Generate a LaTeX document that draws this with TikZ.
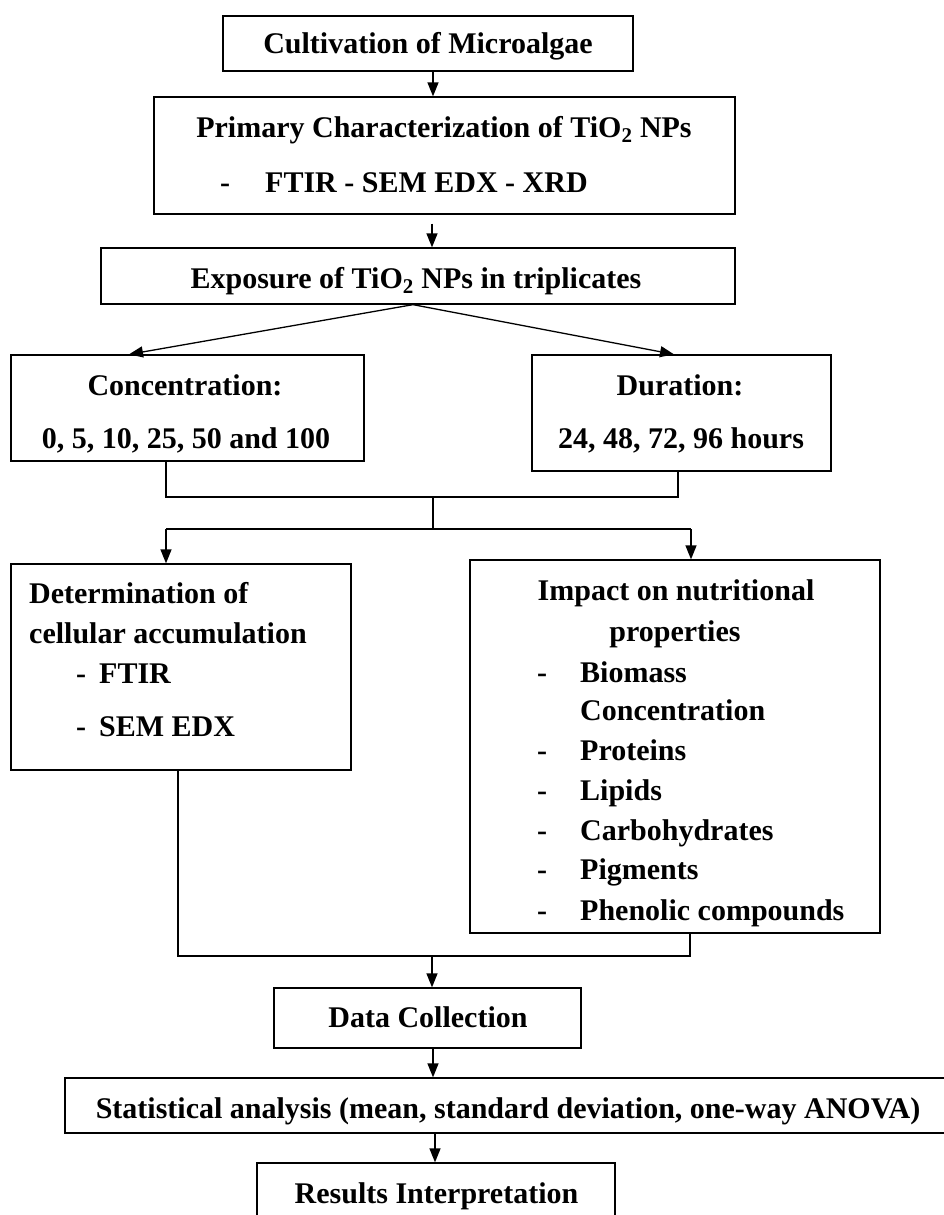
\documentclass[tikz,border=0pt]{standalone}
\usepackage{fontspec}
\setmainfont{Liberation Serif}
\usetikzlibrary{arrows.meta}
\begin{document}
\begin{tikzpicture}[x=1pt,y=-1pt,
  bx/.style args={#1x#2}{draw, line width=1.3pt, inner sep=0pt, minimum width=#1pt, minimum height=#2pt},
  tx/.style={font=\fontsize{30}{36}\selectfont\bfseries, inner sep=0pt, anchor=base},
  tl/.style={font=\fontsize{30}{36}\selectfont\bfseries, inner sep=0pt, anchor=base west},
  ln/.style={line width=1.3pt},
  arr/.style={line width=1.3pt, -{Triangle[length=14pt,width=11pt]}}
]
\useasboundingbox (0,0) rectangle (944,1215);
% boxes
\node[bx=410x55] (b1) at (428,43.5) {};
\node[bx=581x117] (b2) at (444.5,155.5) {};
\node[bx=634x56] (b3) at (418,276) {};
\node[bx=353x106] (bc) at (187.5,408) {};
\node[bx=299x116] (bd) at (681.5,413) {};
\node[bx=340x206] (bdet) at (181,667) {};
\node[bx=410x373] (bimp) at (675,746.5) {};
\node[bx=307x60] (bdata) at (427.5,1018) {};
\node[bx=890x55] (bstat) at (510,1105.5) {};
\node[bx=358x72] (bres) at (436,1199) {};
% texts
\node[tx] (t1) at (428,53) {Cultivation of Microalgae};
\node[tx] (t2a) at (444,137) {Primary Characterization of TiO\textsubscript{2} NPs};
\node[tl] (t2d) at (220,192) {-};
\node[tl] (t2b) at (265,192) {FTIR - SEM EDX - XRD};
\node[tx] (t3) at (416,288) {Exposure of TiO\textsubscript{2} NPs in triplicates};
\node[tx] (tc1) at (185,395) {Concentration:};
\node[tx] (tc2) at (186,448) {0, 5, 10, 25, 50 and 100};
\node[tx] (td1) at (680,395) {Duration:};
\node[tx] (td2) at (681,448) {24, 48, 72, 96 hours};
\node[tl] (te1) at (29,603) {Determination of};
\node[tl] (te2) at (29,643) {cellular accumulation};
\node[tl] (te3d) at (76,683) {-};
\node[tl] (te3) at (99,683) {FTIR};
\node[tl] (te4d) at (76,736) {-};
\node[tl] (te4) at (99,736) {SEM EDX};
\node[tx] (ti1) at (676,600) {Impact on nutritional};
\node[tx] (ti2) at (675,641) {properties};
\node[tl] (ti3d) at (537,682) {-};
\node[tl] (ti3) at (580,682) {Biomass};
\node[tl] (ti3b) at (580,720) {Concentration};
\node[tl] (ti4d) at (537,760) {-};
\node[tl] (ti4) at (580,760) {Proteins};
\node[tl] (ti5d) at (537,800) {-};
\node[tl] (ti5) at (580,800) {Lipids};
\node[tl] (ti6d) at (537,840) {-};
\node[tl] (ti6) at (580,840) {Carbohydrates};
\node[tl] (ti7d) at (537,879) {-};
\node[tl] (ti7) at (580,879) {Pigments};
\node[tl] (ti8d) at (537,920) {-};
\node[tl] (ti8) at (580,920) {Phenolic compounds};
\node[tx] (tdata) at (428,1027) {Data Collection};
\node[tx] (tstat) at (508,1118) {Statistical analysis (mean, standard deviation, one-way ANOVA)};
\node[tx] (tres) at (436.5,1203) {Results Interpretation};
% connector x positions
\coordinate (x433) at (433,0);
\coordinate (x432) at (432,0);
\coordinate (x413) at (413,0);
\coordinate (x129) at (129,0);
\coordinate (x674) at (674,0);
\coordinate (x166) at (166,0);
\coordinate (x678) at (678,0);
\coordinate (x691) at (691,0);
\coordinate (x178) at (178,0);
\coordinate (x690) at (690,0);
\coordinate (x435) at (435,0);
\coordinate (j1) at (433,497);
\coordinate (j2) at (433,529);
\coordinate (j3) at (432,956);
% connectors
\draw[arr] (b1.south -| x433) -- (b2.north -| x433);
\draw[arr, shorten <=9pt] (b2.south -| x432) -- (b3.north -| x432);
\draw[arr] (b3.south -| x413) -- (bc.north -| x129);
\draw[arr] (b3.south -| x413) -- (bd.north -| x674);
\draw[ln] (bc.south -| x166) -- (j1 -| x166) -- (j1 -| x678) -- (bd.south -| x678);
\draw[ln] (j1) -- (j2);
\draw[ln] (j2 -| x166) -- (j2 -| x691);
\draw[arr] (j2 -| x166) -- (bdet.north -| x166);
\draw[arr] (j2 -| x691) -- (bimp.north -| x691);
\draw[ln] (bdet.south -| x178) -- (j3 -| x178) -- (j3 -| x690) -- (bimp.south -| x690);
\draw[arr] (j3) -- (bdata.north -| x432);
\draw[arr] (bdata.south -| x433) -- (bstat.north -| x433);
\draw[arr] (bstat.south -| x435) -- (bres.north -| x435);
\end{tikzpicture}
\end{document}
